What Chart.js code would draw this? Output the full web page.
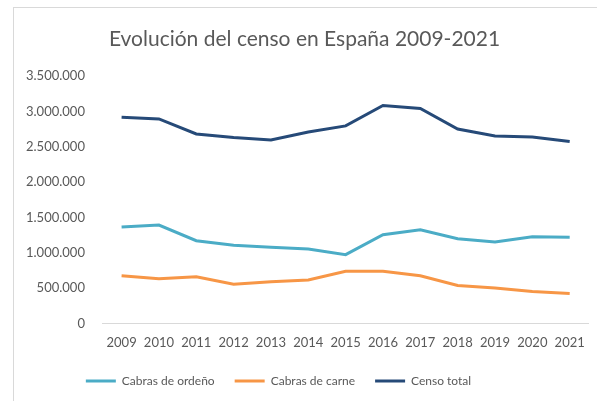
<!DOCTYPE html>
<html>
<head>
<meta charset="utf-8">
<script src="https://cdn.jsdelivr.net/npm/chart.js@4/dist/chart.umd.min.js"></script>
<style>
  html, body { margin: 0; padding: 0; background: #fff; }
  #frame { position: absolute; left: 13px; top: 7px; width: 600px; height: 400px;
           border-left: 1px solid #d9d9d9; border-top: 1px solid #d9d9d9; }
  #wrap { position: absolute; left: 0; top: 0; width: 597px; height: 401px; }
</style>
</head>
<body>
<div id="frame"></div>
<div id="wrap"><canvas id="censoChart"></canvas></div>
<script>
const years = ["2009","2010","2011","2012","2013","2014","2015","2016","2017","2018","2019","2020","2021"];
const cabrasOrdeno = [1365000,1393000,1171000,1105000,1077000,1053000,973000,1256000,1327000,1200000,1152000,1228000,1219000];
const cabrasCarne  = [675000,633000,661000,553000,590000,614000,737000,737000,675000,538000,500000,453000,425000];
const censoTotal   = [2920000,2895000,2683000,2631000,2598000,2711000,2796000,3085000,3042000,2753000,2654000,2640000,2575000];

const FONT = "Lato, 'Open Sans', sans-serif";
const GREY = "#595959";

function fmt(v) {
    return v.toString().replace(/\B(?=(\d{3})+(?!\d))/g, ".");
}

function lineDataset(label, data, color) {
    return {
        label,
        data,
        borderColor: color,
        backgroundColor: color,
        borderWidth: 3,
        pointRadius: 0,
        tension: 0,
        fill: false
    };
}

// nudge title and legend sideways like the original layout
const nudgeBlocks = {
    id: "nudgeBlocks",
    afterLayout(chart) {
        if (chart.titleBlock) {
            chart.titleBlock.left += 5;
            chart.titleBlock.right += 5;
        }
        if (chart.legend) {
            chart.legend.left -= 21;
            chart.legend.right -= 21;
        }
    }
};

const ctx = document.getElementById("censoChart");
new Chart(ctx, {
    type: "line",
    data: {
        labels: years,
        datasets: [
            lineDataset("Cabras de ordeño", cabrasOrdeno, "#4bacc6"),
            lineDataset("Cabras de carne", cabrasCarne, "#f79646"),
            lineDataset("Censo total", censoTotal, "#264a78")
        ]
    },
    plugins: [nudgeBlocks],
    options: {
        responsive: true,
        maintainAspectRatio: false,
        animation: false,
        layout: { padding: { left: 8, right: 6, top: 0, bottom: 4 } },
        plugins: {
            title: {
                display: true,
                text: "Evolución del censo en España 2009-2021",
                color: GREY,
                font: { family: FONT, size: 21, weight: "normal" },
                padding: { top: 27, bottom: 24 }
            },
            legend: {
                position: "bottom",
                labels: {
                    usePointStyle: true,
                    pointStyle: "line",
                    pointStyleWidth: 30,
                    boxHeight: 12,
                    color: GREY,
                    padding: 20,
                    font: { family: FONT, size: 12 }
                }
            },
            tooltip: { enabled: false }
        },
        scales: {
            x: {
                offset: true,
                grid: { display: false, drawTicks: false },
                border: { color: "#d9d9d9", width: 1 },
                ticks: { color: GREY, font: { family: FONT, size: 13 }, padding: 12, maxRotation: 0 },
                afterFit: axis => { axis.height -= 8; }
            },
            y: {
                min: 0,
                max: 3500000,
                grid: { display: false, drawTicks: false },
                border: { display: false },
                ticks: {
                    stepSize: 500000,
                    color: GREY,
                    padding: 18,
                    font: { family: FONT, size: 13 },
                    callback: v => fmt(v)
                }
            }
        }
    }
});
</script>
</body>
</html>
